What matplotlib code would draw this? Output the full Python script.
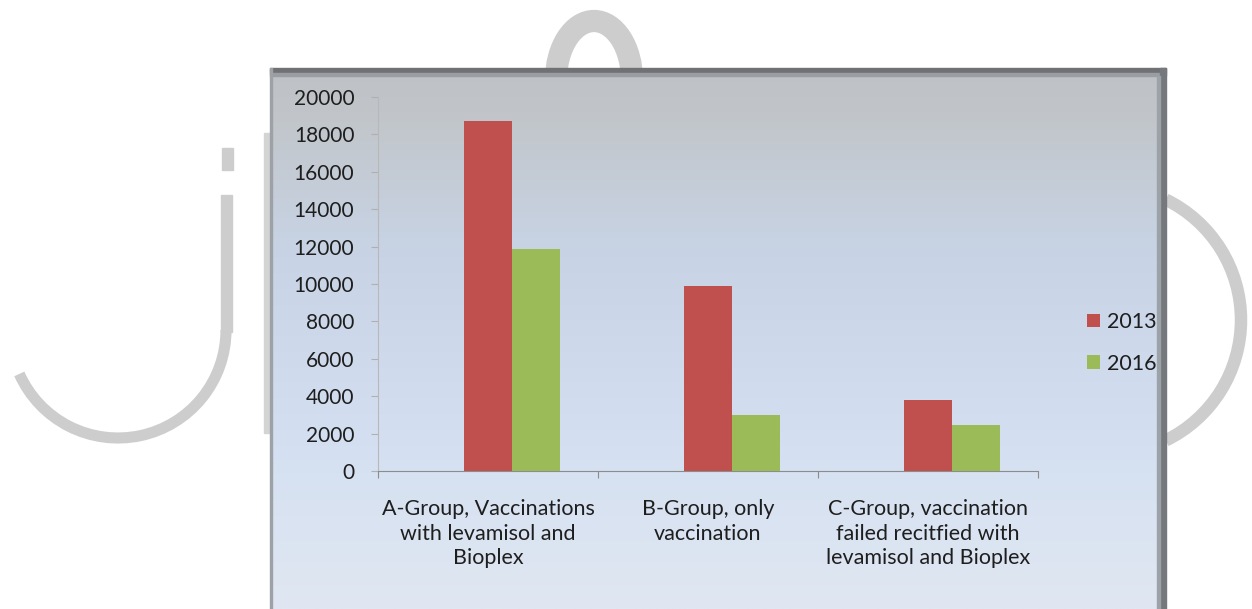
import numpy as np
import matplotlib.pyplot as plt
from matplotlib.patches import Rectangle, Arc, Ellipse

# Дані
categories = ['A-Group, Vaccinations\nwith levamisol and\nBioplex',
              'B-Group, only\nvaccination',
              'C-Group, vaccination\nfailed recitfied with\nlevamisol and Bioplex']
values_2013 = [18700, 9900, 3800]
values_2016 = [11850, 3000, 2450]
series_names = ['2013', '2016']
y_ticks = [0, 2000, 4000, 6000, 8000, 10000, 12000, 14000, 16000, 18000, 20000]

plt.rcParams['font.family'] = ['Lato', 'DejaVu Sans']
W, H = 1252, 609
fig = plt.figure(figsize=(W / 100, H / 100), dpi=100)

# Фон: водяний знак і рамка діаграми (у пікселях)
deco = fig.add_axes([0, 0, 1, 1])
deco.set_xlim(0, W)
deco.set_ylim(H, 0)
deco.axis('off')
wm = '#cdcdcd'
deco.add_patch(Rectangle((222, 148), 11, 22, color=wm, zorder=1))
deco.add_patch(Rectangle((221, 195), 11, 137, color=wm, zorder=1))
deco.add_patch(Arc((118, 330), 216, 216, theta1=0, theta2=156, color=wm, lw=8, zorder=1))
deco.add_patch(Ellipse((594, 80), 76, 118, fill=False, ec=wm, lw=16, zorder=1))
deco.add_patch(Arc((1107, 320), 268, 268, theta1=-64, theta2=64, color=wm, lw=9, zorder=1))
deco.add_patch(Rectangle((264, 133), 6, 300, color='#d4d4d4', zorder=1))

stops_y = [0.0, 0.08, 0.35, 0.7, 1.0]
stops_c = np.array([[190, 193, 197], [193, 197, 201], [200, 212, 230],
                    [212, 224, 241], [224, 231, 242]]) / 255
t = np.linspace(0, 1, 300)
grad = np.stack([np.interp(t, stops_y, stops_c[:, i]) for i in range(3)], axis=1)
grad = np.repeat(grad[:, None, :], 2, axis=1)
deco.imshow(grad, extent=(270, 1166, 609, 68), aspect='auto', zorder=2)
deco.add_patch(Rectangle((270, 68), 896, 5, color='#6f7174', zorder=3))
deco.add_patch(Rectangle((270, 73), 896, 3, color='#9a9da1', zorder=3))
deco.add_patch(Rectangle((1160, 68), 6, 541, color='#75787d', zorder=3))
deco.add_patch(Rectangle((1157, 76), 3, 533, color='#9da2a9', zorder=3))
deco.add_patch(Rectangle((270, 68), 2, 541, color='#9ea2a6', zorder=3))

# Основна діаграма
ax = fig.add_axes([378 / W, 1 - 471 / H, (1038 - 378) / W, (471 - 97) / H])
ax.patch.set_alpha(0)
x = np.arange(len(categories))
w = 0.218
ax.bar(x, values_2013, w, color='#c0504d', label=series_names[0], zorder=3)
ax.bar(x + w, values_2016, w, color='#9bbb59', label=series_names[1], zorder=3)

ax.set_xlim(-0.5, 2.5)
ax.set_ylim(0, 20000)
ax.set_yticks(y_ticks)
ax.set_xticks([-0.5, 0.5, 1.5, 2.5])
ax.set_xticklabels([])
ax.set_xticks(x, minor=True)
ax.set_xticklabels(categories, minor=True, fontsize=15.5, color='#1e1e1e', linespacing=1.3)
ax.tick_params(axis='x', which='minor', length=0, pad=20)
ax.tick_params(axis='x', which='major', length=5, color='#8c8c8c', direction='out')
ax.tick_params(axis='y', length=5, color='#b0b0b0', pad=12, labelsize=15, labelcolor='#1e1e1e')
for s in ['top', 'right']:
    ax.spines[s].set_visible(False)
ax.spines['left'].set_color('#b8b8b8')
ax.spines['bottom'].set_color('#8c8c8c')

fig.legend(loc='center left', bbox_to_anchor=(1068 / W, 1 - 343 / H), frameon=False,
           fontsize=15.5, handlelength=0.6, handleheight=0.6, handletextpad=0.3,
           labelspacing=1.0, labelcolor='#1e1e1e')

fig.savefig('out.png', dpi=100)
